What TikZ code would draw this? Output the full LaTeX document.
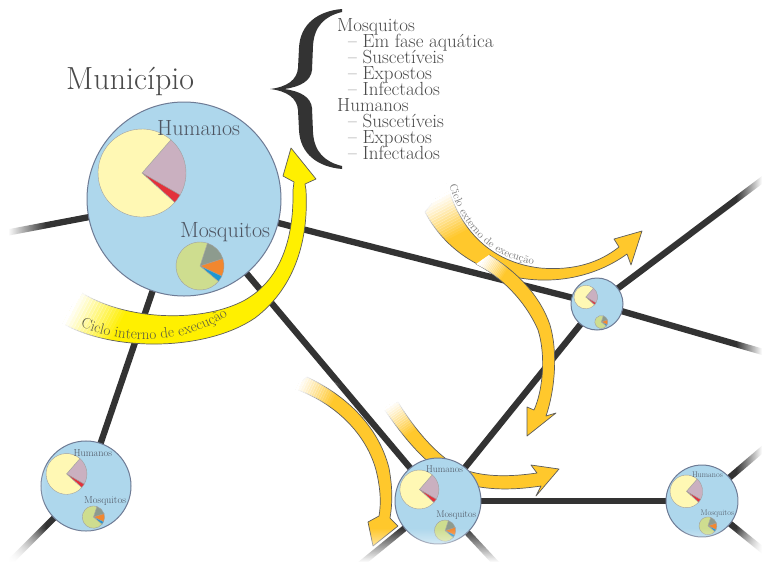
\documentclass[tikz,border=0pt]{standalone}
\usepackage{fontspec}
\usetikzlibrary{decorations.text,fadings}
\definecolor{lineblack}{HTML}{333333}
\definecolor{cellblue}{HTML}{AED7EC}
\definecolor{cellborder}{HTML}{6E7B95}
\definecolor{hyellow}{HTML}{FFF8B4}
\definecolor{hpurple}{HTML}{CAB0C0}
\definecolor{hred}{HTML}{E3313B}
\definecolor{mgreen}{HTML}{CEDD8F}
\definecolor{mgrey}{HTML}{8D9B8E}
\definecolor{morange}{HTML}{F2872F}
\definecolor{mblue}{HTML}{1B97D4}
\definecolor{pieedge}{HTML}{A0A0A0}
\definecolor{flowY}{HTML}{FFF000}
\definecolor{flowO}{HTML}{FFC82C}
\definecolor{flowedge}{HTML}{5C5C5C}
\definecolor{txtgrey}{HTML}{4A4A4A}
\definecolor{lblgrey}{HTML}{4E5562}
\definecolor{flowtxt}{HTML}{5A5A40}
\definecolor{exttxt}{HTML}{777777}
\definecolor{bracecol}{HTML}{333333}
\pgfdeclarelayer{edges}
\pgfdeclarelayer{flows}
\pgfdeclarelayer{fade}
\pgfsetlayers{edges,flows,main,fade}
\newcommand\pieslice[5]{\fill[#5, draw=pieedge, line width=0.4pt] #1 -- ++(#3:#2) arc[start angle=#3, end angle=#4, radius=#2] -- cycle;}
\newcommand\mkcell[5]{%
\begin{scope}[shift={(#2,#3)}, scale=#4, every node/.append style={transform shape}]
\node[cellcirc] (#1) at (0,0) {};
\pieslice{(-42,-26)}{44}{-49}{30}{hpurple}
\pieslice{(-42,-26)}{44}{30}{42}{hred}
\pieslice{(-42,-26)}{44}{42}{311}{hyellow}
\pieslice{(16,67)}{24}{-72}{-18}{mgrey}
\pieslice{(16,67)}{24}{-18}{25}{morange}
\pieslice{(16,67)}{24}{25}{40}{mblue}
\pieslice{(16,67)}{24}{40}{288}{mgreen}
\ifnum#5=1
\node[lbl, anchor=base west] (#1h) at (-27,-64) {Humanos};
\node[lbl, anchor=base west] (#1m) at (-4,38) {Mosquitos};
\fi
\end{scope}}
\newcommand\tailfade[4]{%
\begin{scope}[shift={#1}, rotate=#2]
\fill[white] (-8,-#4) rectangle (0.3,#4);
\foreach \i [evaluate=\i as \op using {1-\i/16}] in {0,...,15}{%
\fill[white, fill opacity=\op] ({\i*#3/16},-#4) rectangle ({(\i+1)*#3/16+0.3},#4);}
\end{scope}}
\begin{document}
\begin{tikzpicture}[x=1pt,y=-1pt,
 edge/.style={line width=6.3pt, draw=lineblack},
 cellcirc/.style={circle, fill=cellblue, draw=cellborder, line width=1pt, minimum size=194pt, inner sep=0pt},
 lbl/.style={font=\fontsize{22}{24}\selectfont, text=lblgrey, inner sep=0pt},
 listtxt/.style={font=\fontsize{19}{20}\selectfont, text=txtgrey, inner sep=0pt, anchor=base west},
 flowline/.style={draw=flowedge, line width=0.7pt, line join=round}]
\useasboundingbox (0,0) rectangle (764,566);

% cells
\mkcell{N1}{184}{199}{1}{1}
\mkcell{N2}{597}{304}{0.268}{0}
\mkcell{N3}{438}{501}{0.443}{1}
\mkcell{N4}{702}{501}{0.371}{1}
\mkcell{N5}{86}{486}{0.464}{1}

\coordinate (e1) at (0,234);
\coordinate (e3) at (0,572);
\coordinate (e5) at (770,354);
\coordinate (e6) at (770,174);
\coordinate (e9) at (351,572);
\coordinate (e10) at (504,572);
\coordinate (e12) at (770,443);
\coordinate (e13) at (770,556);

\begin{pgfonlayer}{edges}
\fill[white] (0,0) rectangle (764,566);
\draw[edge] (N1.center) -- (e1);
\draw[edge] (N1.center) -- (N5.center);
\draw[edge] (N5.center) -- (e3);
\draw[edge] (N1.center) -- (N3.center);
\draw[edge] (N1.center) -- (N2.center);
\draw[edge] (N2.center) -- (e5);
\draw[edge] (N2.center) -- (e6);
\draw[edge] (N2.center) -- (N3.center);
\draw[edge] (N3.center) -- (N4.center);
\draw[edge] (N3.center) -- (e9);
\draw[edge] (N3.center) -- (e10);
\draw[edge] (N4.center) -- (e12);
\draw[edge] (N4.center) -- (e13);
\end{pgfonlayer}

\begin{pgfonlayer}{flows}
% inner cycle arrow
\def\pathI{(60,322) .. controls (110,352) and (205,352) .. (255,318) .. controls (292,290) and (309,245) .. (306,190) -- (305,184) -- (316,179) -- (291,148) -- (283,176) -- (294,182) -- (293,190) .. controls (294,240) and (280,280) .. (245,300) .. controls (205,322) and (130,322) .. (82,293) -- cycle}
\fill[flowY] \pathI;
\draw[flowline] \pathI;
\tailfade{(71,307)}{-28}{50}{26}
\path[decorate, decoration={text along path, text align=center, text={|\fontsize{15}{15}\selectfont\color{flowtxt}|Ciclo interno de execução}}] (62,317) .. controls (115,349) and (195,349) .. (244,303);
% arrow A
\def\pathA{(447,184) .. controls (460,230) and (490,262) .. (540,268) .. controls (575,271) and (600,262) .. (619,247) -- (614,239) -- (642,231) -- (631,265) -- (627,254) .. controls (605,270) and (575,281) .. (540,280) .. controls (485,278) and (445,250) .. (425,212) -- cycle}
\fill[flowO] \pathA;
\draw[flowline] \pathA;
\tailfade{(436,198)}{-62}{42}{20}
\path[decorate, decoration={text along path, text={|\fontsize{11}{12}\selectfont\color{exttxt}|Ciclo externo de execução}}] (449.5,185.5) .. controls (462.5,229.5) and (490.5,259.5) .. (540.5,265.5) -- (570,265);
% arrow B
\def\pathB{(476,264) .. controls (500,276) and (525,300) .. (538,330) .. controls (546,355) and (543,390) .. (534,410) -- (527,407) -- (527,436) -- (556,413) -- (546,416) .. controls (555,390) and (558,352) .. (550,325) .. controls (540,295) and (515,270) .. (489,255) -- cycle}
\fill[flowO] \pathB;
\draw[flowline] (476,264) .. controls (500,276) and (525,300) .. (538,330) .. controls (546,355) and (543,390) .. (534,410) -- (527,407) -- (527,436) -- (556,413) -- (546,416) .. controls (555,390) and (558,352) .. (550,325) .. controls (540,295) and (515,270) .. (489,255);
\begin{scope}
\clip \pathB;
\tailfade{(482,260)}{-32}{26}{16}
\end{scope}
% arrow C
\def\pathC{(292,388) .. controls (330,400) and (365,430) .. (376,470) .. controls (381,490) and (381,505) .. (379,516) -- (368,522) -- (373,546) -- (398,526) -- (390,518) .. controls (393,500) and (392,485) .. (389,468) .. controls (378,425) and (345,395) .. (307,377) -- cycle}
\fill[flowO] \pathC;
\draw[flowline] \pathC;
\tailfade{(299,382)}{-25}{38}{15}
% arrow D
\def\pathD{(382,406) .. controls (405,440) and (430,470) .. (460,482) .. controls (485,491) and (515,490) .. (541,486) -- (536,496) -- (559,469) -- (531,465) -- (537,473) .. controls (510,477) and (485,477) .. (465,470) .. controls (440,460) and (415,430) .. (398,402) -- cycle}
\fill[flowO] \pathD;
\draw[flowline] \pathD;
\tailfade{(390,404)}{-55}{35}{14}
\end{pgfonlayer}

% title
\node[font=\fontsize{32}{34}\selectfont, text=txtgrey, anchor=base west, inner sep=0pt] (mun) at (66,89) {Município};

% brace
\fill[bracecol] (342,9) .. controls (318,11) and (300,24) .. (299,48) -- (298,68) .. controls (297,80) and (287,87) .. (270,89) .. controls (287,91) and (297,98) .. (298,110) -- (299,130) .. controls (300,154) and (318,167) .. (342,169) -- (342,166) .. controls (325,162) and (314,152) .. (313,132) -- (312,108) .. controls (311,97) and (300,91) .. (284,89) .. controls (300,87) and (311,81) .. (312,70) -- (313,46) .. controls (314,26) and (325,16) .. (342,12) -- cycle;

% list
\node[listtxt] (t1) at (337,31) {Mosquitos};
\node[listtxt] (t2) at (348,47.1) {– Em fase aquática};
\node[listtxt] (t3) at (348,63.2) {– Suscetíveis};
\node[listtxt] (t4) at (348,79.3) {– Expostos};
\node[listtxt] (t5) at (348,95.4) {– Infectados};
\node[listtxt] (t6) at (337,111.5) {Humanos};
\node[listtxt] (t7) at (348,127.6) {– Suscetíveis};
\node[listtxt] (t8) at (348,143.7) {– Expostos};
\node[listtxt] (t9) at (348,159.8) {– Infectados};

\begin{pgfonlayer}{fade}
\fill[white, path fading=east] (8,0) rectangle (46,566);
\fill[white] (-10,0) rectangle (8.5,580);
\fill[white, path fading=west] (736,0) rectangle (762,566);
\fill[white] (761.5,0) rectangle (780,580);
\fill[white, path fading=north] (0,528) rectangle (764,562);
\fill[white] (-10,561.5) rectangle (780,580);
\end{pgfonlayer}
\end{tikzpicture}
\end{document}
